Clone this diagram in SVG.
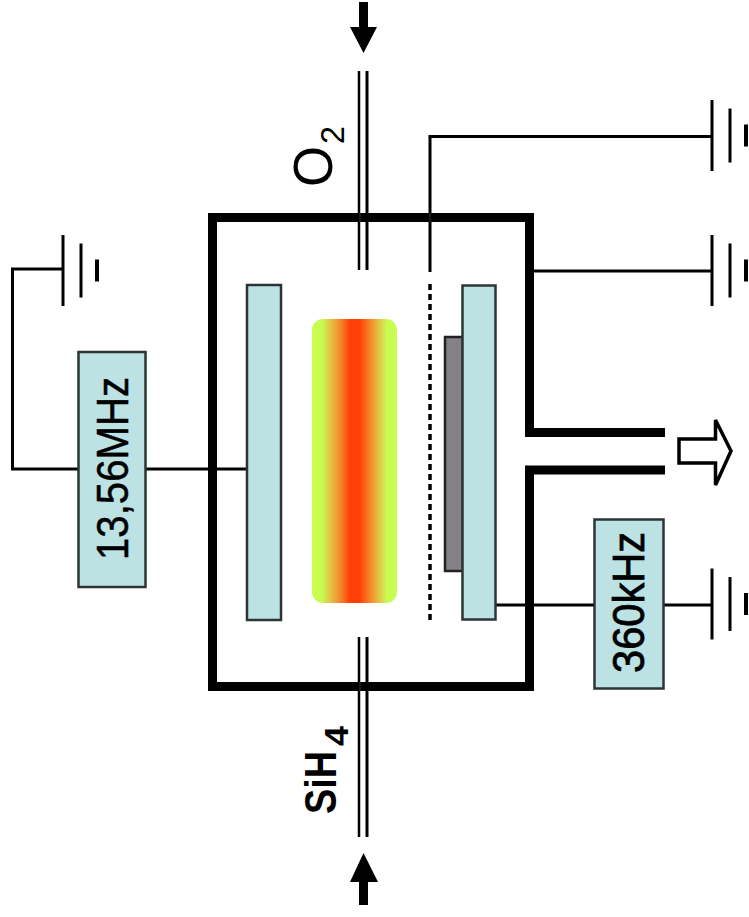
<svg xmlns="http://www.w3.org/2000/svg" width="749" height="917" viewBox="0 0 749 917">
<style>
.bg{fill:#fff}
.wall{fill:none;stroke:#000;stroke-width:9;stroke-linejoin:miter}
.wire{fill:none;stroke:#000;stroke-width:3}
.plate{stroke:#000;stroke-width:3;stroke-linecap:butt}
.elec{fill:#bce2e4;stroke:#2c3436;stroke-width:2.5}
.lbl{font-family:"Liberation Sans",Arial,sans-serif;fill:#000}
</style>
<defs>
<linearGradient id="plasmaGrad" x1="0" y1="0" x2="1" y2="0">
<stop offset="0" stop-color="#c8ff50"/>
<stop offset="0.12" stop-color="#c8fa50"/>
<stop offset="0.22" stop-color="#e4c045"/>
<stop offset="0.34" stop-color="#f58428"/>
<stop offset="0.44" stop-color="#ff4006"/>
<stop offset="0.56" stop-color="#ff4006"/>
<stop offset="0.68" stop-color="#f58428"/>
<stop offset="0.78" stop-color="#e4c045"/>
<stop offset="0.88" stop-color="#c8fa50"/>
<stop offset="1" stop-color="#c8ff50"/>
</linearGradient>
<g id="ground">
<path class="plate" d="M0 -35.5V35.5M18 -27V27"/>
<path d="M34 -11V11" stroke="#000" stroke-width="4"/>
</g>
</defs>
<rect class="bg" width="749" height="917"/>
<g id="connectors">
<path class="wire" d="M145 469H247"/>
<path class="wire" d="M63 269H12.5V469H78"/>
<path class="wire" d="M430 272V136.500H712"/>
<path class="wire" d="M534 271H712"/>
<path class="wire" d="M496 605H712"/>
<path d="M430 284V620" fill="none" stroke="#000" stroke-width="3.500" stroke-dasharray="6 4"/>
<path d="M359 71V270M359 637V837" fill="none" stroke="#000" stroke-width="2.500"/>
<path d="M367 71V270M367 637V837" fill="none" stroke="#000" stroke-width="3"/>
<path d="M359 2H368V27H377L363.500 53L350 27H359Z" fill="#000"/>
<path d="M363.500 853L378 882H368V905H359V882H350Z" fill="#000"/>
<path d="M679 439H715.500V420L731 451L715.500 485V463H679Z" fill="#fff" stroke="#000" stroke-width="3.500"/>
</g>
<g id="chamber">
<path class="wall" d="M665 432.500H529.500V217.500H212.500V686.500H529.500V470H665"/>
<path d="M360 213V222M360 682V691M430 213V222" stroke="#333" stroke-width="1"/>
</g>
<g id="upper-electrode"><rect class="elec" x="247" y="285" width="34" height="335"/></g>
<g id="plasma"><rect x="312" y="319" width="85" height="284" rx="11" fill="url(#plasmaGrad)"/></g>
<g id="wafer"><rect x="445" y="337" width="18" height="234" fill="#858185" stroke="#222" stroke-width="2.500"/></g>
<g id="lower-electrode"><rect class="elec" x="462.500" y="285.500" width="33" height="334"/></g>
<g id="rf-13-56"><rect class="elec" x="78.500" y="352" width="67" height="235"/>
<text class="lbl" transform="translate(128 560) rotate(-90)" font-size="44" textLength="183" lengthAdjust="spacingAndGlyphs" stroke="#000" stroke-width="0.5">13,56MHz</text></g>
<g id="rf-360"><rect class="elec" x="594.500" y="519.500" width="69" height="169"/>
<text class="lbl" transform="translate(644 673) rotate(-90)" font-size="44" textLength="141" lengthAdjust="spacingAndGlyphs" stroke="#000" stroke-width="0.8">360kHz</text></g>
<g id="label-o2">
<text class="lbl" transform="translate(332 187) rotate(-90)" font-size="55" textLength="41" lengthAdjust="spacingAndGlyphs">O</text>
<text class="lbl" transform="translate(344 144) rotate(-90)" font-size="33" textLength="18" lengthAdjust="spacingAndGlyphs">2</text>
</g>
<g id="label-sih4">
<text class="lbl" transform="translate(336 814) rotate(-90)" font-size="45" font-weight="bold" textLength="63" lengthAdjust="spacingAndGlyphs">SiH</text>
<text class="lbl" transform="translate(348 746) rotate(-90)" font-size="33" font-weight="bold" textLength="20" lengthAdjust="spacingAndGlyphs">4</text>
</g>
<g id="ground-left"><use href="#ground" x="63" y="270.500"/></g>
<g id="ground-grid"><use href="#ground" x="712" y="135.500"/></g>
<g id="ground-chamber"><use href="#ground" x="712" y="270.500"/></g>
<g id="ground-substrate"><use href="#ground" x="712" y="604"/></g>
</svg>
